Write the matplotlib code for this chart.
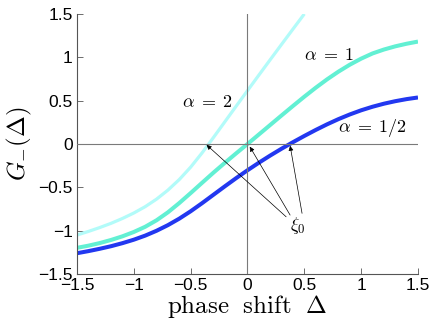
import numpy as np
import matplotlib
matplotlib.use("Agg")
import matplotlib.pyplot as plt

plt.rcParams['mathtext.fontset'] = 'cm'
plt.rcParams['font.family'] = ['Liberation Sans', 'DejaVu Sans']

# Data (phase shift Delta vs G_-(Delta))
x_half = [-1.5, -1.4, -1.3, -1.2, -1.1, -1.0, -0.9, -0.8, -0.7, -0.6, -0.5,
          -0.4, -0.3, -0.2, -0.1, 0.0, 0.1, 0.2, 0.3, 0.4, 0.5, 0.6, 0.7,
          0.8, 0.9, 1.0, 1.1, 1.2, 1.3, 1.4, 1.5]
g_half = [-1.260, -1.236, -1.209, -1.179, -1.144, -1.104, -1.057, -1.001,
          -0.936, -0.861, -0.776, -0.683, -0.586, -0.489, -0.394, -0.303,
          -0.216, -0.133, -0.054, 0.021, 0.093, 0.162, 0.227, 0.287, 0.341,
          0.389, 0.430, 0.465, 0.494, 0.518, 0.537]

x_one = [-1.5, -1.4, -1.3, -1.2, -1.1, -1.0, -0.9, -0.8, -0.7, -0.6, -0.5,
         -0.4, -0.3, -0.2, -0.1, 0.0, 0.1, 0.2, 0.3, 0.4, 0.5, 0.6, 0.7,
         0.8, 0.9, 1.0, 1.1, 1.2, 1.3, 1.4, 1.5]
g_one = [-1.198, -1.173, -1.143, -1.107, -1.065, -1.015, -0.955, -0.880,
         -0.788, -0.681, -0.566, -0.448, -0.331, -0.218, -0.108, 0.0,
         0.110, 0.220, 0.330, 0.439, 0.546, 0.649, 0.746, 0.835, 0.915,
         0.985, 1.045, 1.090, 1.127, 1.157, 1.182]

x_two = [-1.5, -1.4, -1.3, -1.2, -1.1, -1.0, -0.9, -0.8, -0.7, -0.6, -0.5,
         -0.4, -0.3, -0.2, -0.1, 0.0, 0.1, 0.2, 0.3, 0.4, 0.5]
g_two = [-1.050, -1.009, -0.964, -0.915, -0.859, -0.796, -0.723, -0.636,
         -0.532, -0.410, -0.267, -0.103, 0.074, 0.255, 0.436, 0.616, 0.795,
         0.973, 1.150, 1.326, 1.501]

ticks = [-1.5, -1, -0.5, 0, 0.5, 1, 1.5]
tick_labels = ['\u22121.5', '\u22121', '\u22120.5', '0', '0.5', '1', '1.5']

fig = plt.figure(figsize=(4.36, 3.28), dpi=100)
ax = fig.add_axes([0.1766, 0.1646, 0.7821, 0.7927])

ax.plot(x_two, g_two, color='#b2fbf9', lw=2.3, solid_capstyle='butt', zorder=2)
ax.plot(x_one, g_one, color='#62f0d3', lw=2.9, solid_capstyle='butt', zorder=2)
ax.plot(x_half, g_half, color='#2238f0', lw=2.9, solid_capstyle='butt', zorder=2)

ax.axhline(0, color='#7a7a7a', lw=0.8, zorder=3)
ax.axvline(0, color='#7a7a7a', lw=0.8, zorder=3)

ax.set_xlim(-1.5, 1.5)
ax.set_ylim(-1.5, 1.5)
ax.set_xticks(ticks)
ax.set_xticklabels(tick_labels)
ax.set_yticks(ticks)
ax.set_yticklabels(tick_labels)
ax.tick_params(direction='in', length=4, width=0.6, color='#555555',
               labelsize=12.5, pad=3)
for s in ['top', 'right']:
    ax.spines[s].set_visible(False)
for s in ['left', 'bottom']:
    ax.spines[s].set_color('#555555')
    ax.spines[s].set_linewidth(0.8)

ax.set_xlabel(r'$\mathrm{phase\ \ shift}\ \ \Delta$', fontsize=18, labelpad=0)
ax.set_ylabel(r'$G_{-}(\Delta)$', fontsize=18, labelpad=3)

ax.text(-0.58, 0.43, r'$\alpha\;=\;2$', fontsize=13, ha='left', va='baseline')
ax.text(0.50, 0.97, r'$\alpha\;=\;1$', fontsize=13, ha='left', va='baseline')
ax.text(0.80, 0.14, r'$\alpha\;=\;1/2$', fontsize=13, ha='left', va='baseline')
ax.text(0.375, -0.99, r'$\xi_0$', fontsize=13, ha='left', va='baseline')

arrow_kw = dict(arrowstyle='-|>', color='black', lw=0.5, mutation_scale=7,
                shrinkA=0, shrinkB=0)
ax.annotate('', xy=(-0.36, -0.01), xytext=(0.34, -0.84), arrowprops=arrow_kw)
ax.annotate('', xy=(0.02, -0.03), xytext=(0.375, -0.82), arrowprops=arrow_kw)
ax.annotate('', xy=(0.375, -0.02), xytext=(0.48, -0.80), arrowprops=arrow_kw)

fig.savefig('out.png', dpi=100)
